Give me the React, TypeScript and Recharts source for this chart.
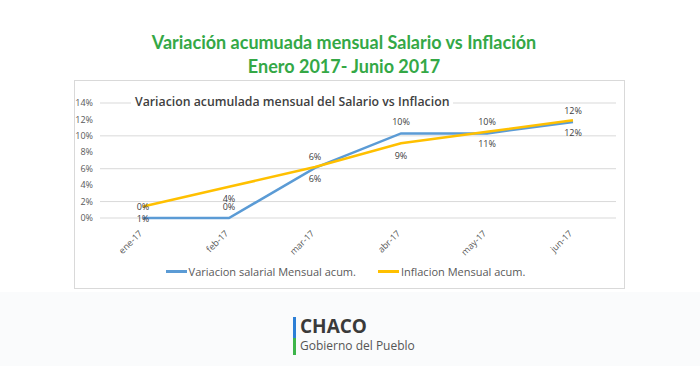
import { CartesianGrid, LabelList, Legend, Line, LineChart, XAxis, YAxis } from "recharts";

const months = ["ene-17", "feb-17", "mar-17", "abr-17", "may-17", "jun-17"];
const salario = [0, 0, 6.1, 10.3, 10.3, 11.7];
const inflacion = [1.4, 3.8, 6.2, 9.1, 10.5, 11.9];
const yTicks = [0, 2, 4, 6, 8, 10, 12, 14];

const BLUE = "#5b9bd5";
const GOLD = "#ffc000";
const FONT = "'Open Sans', 'Noto Sans', sans-serif";

const data = months.map((m, i) => ({ month: m, salario: salario[i], inflacion: inflacion[i] }));

function MonthTick(props: any) {
  const { x, y, payload } = props;
  return (
    <text
      x={x}
      y={y + 8}
      transform={`rotate(-45, ${x}, ${y + 8})`}
      textAnchor="end"
      fontSize={9}
      fill="#595959"
      fontFamily={FONT}
    >
      {payload.value}
    </text>
  );
}

function ChartLegend() {
  const item = (color: string, text: string) => (
    <div style={{ display: "flex", alignItems: "center" }}>
      <span style={{ width: 21, height: 3, background: color, display: "inline-block" }} />
      <span style={{ marginLeft: 2 }}>{text}</span>
    </div>
  );
  return (
    <div
      style={{
        display: "flex",
        justifyContent: "center",
        gap: 22,
        fontSize: 11,
        color: "#595959",
        fontFamily: FONT,
        height: 34,
        alignItems: "center",
      }}
    >
      {item(BLUE, "Variacion salarial Mensual acum.")}
      {item(GOLD, "Inflacion Mensual acum.")}
    </div>
  );
}

const pct = (v: any) => `${Math.round(Number(v))}%`;

export default function App() {
  return (
    <div
      style={{
        position: "absolute",
        left: 0,
        top: 0,
        width: 700,
        height: 366,
        background: "#ffffff",
        overflow: "hidden",
        fontFamily: FONT,
      }}
    >
      <div
        style={{
          position: "absolute",
          left: 0,
          top: 30,
          width: 688,
          textAlign: "center",
          color: "#34a846",
          fontFamily: "Lato, sans-serif",
          fontWeight: 700,
          fontSize: 18,
          lineHeight: "24px",
        }}
      >
        Variación acumuada mensual Salario vs Inflación
        <br />
        Enero 2017- Junio 2017
      </div>

      <div
        style={{
          position: "absolute",
          left: 74,
          top: 80,
          width: 549,
          height: 207,
          border: "1px solid #d9d9d9",
          background: "#fff",
        }}
      >
        <LineChart
          width={549}
          height={207}
          data={data}
          margin={{ top: 22, right: 8, bottom: 0, left: 0 }}
        >
          <CartesianGrid vertical={false} stroke="#d9d9d9" />
          <XAxis
            dataKey="month"
            axisLine={false}
            tickLine={false}
            height={36}
            interval={0}
            padding={{ left: 43, right: 43 }}
            tick={<MonthTick />}
          />
          <YAxis
            domain={[0, 14]}
            ticks={yTicks}
            width={25}
            axisLine={false}
            tickLine={false}
            tickSize={0}
            tickMargin={7}
            tickFormatter={(v) => `${v}%`}
            tick={{ fontSize: 9, fill: "#595959", fontFamily: FONT }}
          />
          <Legend verticalAlign="bottom" content={<ChartLegend />} />
          <Line
            type="linear"
            dataKey="salario"
            name="Variacion salarial Mensual acum."
            stroke={BLUE}
            strokeWidth={2.5}
            dot={false}
            isAnimationActive={false}
          >
            <LabelList
              dataKey="salario"
              position="top"
              offset={8}
              formatter={pct}
              style={{ fontSize: 9, fill: "#404040", fontFamily: FONT }}
            />
          </Line>
          <Line
            type="linear"
            dataKey="inflacion"
            name="Inflacion Mensual acum."
            stroke={GOLD}
            strokeWidth={2.5}
            dot={false}
            isAnimationActive={false}
          >
            <LabelList
              dataKey="inflacion"
              position="bottom"
              offset={9}
              formatter={pct}
              style={{ fontSize: 9, fill: "#404040", fontFamily: FONT }}
            />
          </Line>
        </LineChart>
        <div
          style={{
            position: "absolute",
            left: 56,
            top: 12,
            background: "#fff",
            padding: "0 4px",
            fontSize: 12.3,
            fontWeight: 600,
            color: "#404040",
            lineHeight: "18px",
            whiteSpace: "nowrap",
          }}
        >
          Variacion acumulada mensual del Salario vs Inflacion
        </div>
      </div>

      <div
        style={{
          position: "absolute",
          left: 0,
          top: 292,
          width: 700,
          height: 74,
          background: "#fafbfc",
        }}
      >
        <div style={{ position: "absolute", left: 293, top: 25, width: 3, height: 21, background: "#2d7fd6" }} />
        <div style={{ position: "absolute", left: 293, top: 46, width: 3, height: 17, background: "#3db54a" }} />
        <div
          style={{
            position: "absolute",
            left: 300,
            top: 23,
            fontSize: 19,
            fontWeight: 700,
            color: "#3a3a3a",
            lineHeight: "22px",
          }}
        >
          CHACO
        </div>
        <div
          style={{
            position: "absolute",
            left: 300,
            top: 46,
            fontSize: 12,
            color: "#555",
            lineHeight: "16px",
          }}
        >
          Gobierno del Pueblo
        </div>
      </div>
    </div>
  );
}
